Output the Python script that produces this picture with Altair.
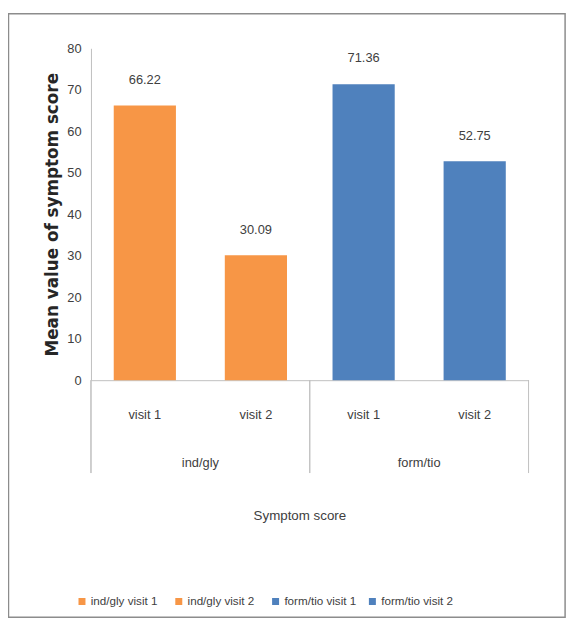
import altair as alt
import pandas as pd

groups = ["ind/gly", "ind/gly", "form/tio", "form/tio"]
visits = ["visit 1", "visit 2", "visit 1", "visit 2"]
values = [66.22, 30.09, 71.36, 52.75]
series = ["ind/gly visit 1", "ind/gly visit 2", "form/tio visit 1", "form/tio visit 2"]
colors = ["#F79646", "#F79646", "#4F81BD", "#4F81BD"]
y_ticks = [0, 10, 20, 30, 40, 50, 60, 70, 80]

df = pd.DataFrame({"group": groups, "visit": visits, "value": values, "series": series})

FONT = "Liberation Sans"
TXT = "#404040"
LINE = "#BFBFBF"
W, H = 443, 336

xg = alt.X("group:N", sort=["ind/gly", "form/tio"],
           scale=alt.Scale(paddingInner=0, paddingOuter=0),
           axis=alt.Axis(title="Symptom score", labelAngle=0, ticks=False, tickSize=0,
                         labelPadding=77, labelFont=FONT, labelFontSize=13, labelColor=TXT,
                         titleFont=FONT, titleFontSize=13.5, titleColor=TXT, titleFontWeight="normal",
                         titlePadding=40, domainColor=LINE, titleX=211))
xo = alt.XOffset("visit:N", sort=["visit 1", "visit 2"],
                 scale=alt.Scale(paddingInner=0.44, paddingOuter=0.205))

base = alt.Chart(df)

bars = base.mark_bar().encode(
    x=xg, xOffset=xo,
    y=alt.Y("value:Q", scale=alt.Scale(domain=[0, 80]),
            axis=alt.Axis(title="Mean value of symptom score", values=y_ticks, grid=False,
                          ticks=False, labelPadding=10, labelFont=FONT, labelFontSize=13,
                          labelColor=TXT, titleFont="DejaVu Sans", titleFontSize=17,
                          titleFontWeight="bold", titleColor="#262626", titlePadding=5,
                          domainColor=LINE)),
    color=alt.Color("series:N", sort=series,
                    scale=alt.Scale(domain=series, range=colors),
                    legend=alt.Legend(title=None, orient="none", direction="horizontal",
                                      columns=4, gridAlign="all",
                                      legendX=-15, legendY=554, symbolType="square",
                                      symbolSize=50, symbolStrokeWidth=0, labelFont=FONT,
                                      labelFontSize=11.8, labelColor=TXT, columnPadding=10,
                                      labelOffset=3)),
)

labels = base.mark_text(baseline="bottom", dy=-19, font=FONT, fontSize=13, color=TXT).encode(
    x=xg, xOffset=xo, y="value:Q", text=alt.Text("value:Q", format=".2f"))

visit_labels = base.mark_text(baseline="middle", font=FONT, fontSize=13, color=TXT).encode(
    x=xg, xOffset=xo, y=alt.value(H + 35), text="visit:N")

seps = base.mark_rule(color=LINE, strokeWidth=1).encode(
    x=alt.X("group:N", sort=["ind/gly", "form/tio"], bandPosition=0),
    y=alt.value(H), y2=alt.value(H + 94))

right_sep = alt.Chart(alt.Data(values=[{}])).mark_rule(color=LINE, strokeWidth=1).encode(
    x=alt.value(W), y=alt.value(H), y2=alt.value(H + 94))

border = alt.Chart(alt.Data(values=[{}])).mark_rect(
    fill=None, stroke="#8C8C8C", strokeWidth=1.5).encode(
    x=alt.value(-83.5), x2=alt.value(W + 37), y=alt.value(-35), y2=alt.value(576))

chart = alt.layer(bars, labels, visit_labels, seps, right_sep, border).properties(
    width=W, height=H,
    autosize=alt.AutoSizeParams(type="none"),
    padding={"left": 84, "top": 37, "right": 45, "bottom": 240},
).configure_view(stroke=None)

chart.save("out.html", embed_options={"renderer": "svg", "actions": False})
